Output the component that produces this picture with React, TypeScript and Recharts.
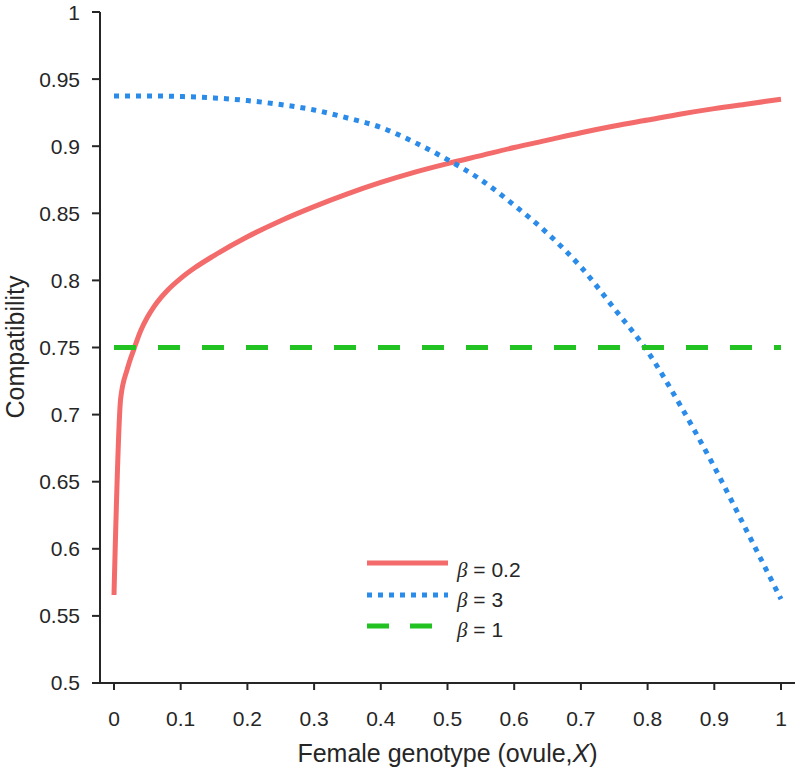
import React from 'react';
import { LineChart, Line, XAxis, YAxis, Legend } from 'recharts';

// x ticks / y ticks
const xTicks = [0, 0.1, 0.2, 0.3, 0.4, 0.5, 0.6, 0.7, 0.8, 0.9, 1];
const yTicks = [0.5, 0.55, 0.6, 0.65, 0.7, 0.75, 0.8, 0.85, 0.9, 0.95, 1];

// beta = 0.2 (denser near 0)
const redX = [0, 0.01, 0.02, 0.03, 0.04, 0.05, 0.06, 0.07, 0.08, 0.1, 0.12, 0.15, 0.2, 0.25, 0.3, 0.35, 0.4, 0.45, 0.5, 0.55, 0.6, 0.65, 0.7, 0.75, 0.8, 0.85, 0.9, 0.95, 1];
const redY = [0.5656, 0.712, 0.734, 0.749, 0.7625, 0.7725, 0.7805, 0.787, 0.7925, 0.8015, 0.809, 0.8185, 0.8325, 0.8445, 0.855, 0.8645, 0.873, 0.8805, 0.887, 0.893, 0.899, 0.9045, 0.91, 0.915, 0.9195, 0.924, 0.928, 0.9315, 0.935];

// beta = 3
const blueX = [0, 0.05, 0.1, 0.15, 0.2, 0.25, 0.3, 0.35, 0.4, 0.45, 0.5, 0.55, 0.6, 0.65, 0.7, 0.75, 0.8, 0.85, 0.9, 0.95, 1];
const blueY = [0.9375, 0.9375, 0.937, 0.936, 0.934, 0.931, 0.927, 0.921, 0.914, 0.903, 0.89, 0.875, 0.856, 0.835, 0.81, 0.779, 0.747, 0.706, 0.661, 0.612, 0.5625];

// beta = 1
const greenX = [0, 1];
const greenY = [0.75, 0.75];

const RED = '#f36b6b';
const BLUE = '#2b8be9';
const GREEN = '#21c221';
const INK = '#262626';
const FONT = '"Liberation Sans", Arial, sans-serif';

const toRows = (xs: number[], ys: number[]) => xs.map((x, i) => ({ x, y: ys[i] }));

const redData = toRows(redX, redY);
const blueData = toRows(blueX, blueY);
const greenData = toRows(greenX, greenY);

const legendRows = [
  { label: '0.2', color: RED, dash: undefined as string | undefined },
  { label: '3', color: BLUE, dash: '5 6' },
  { label: '1', color: GREEN, dash: '22 21' },
];

const LegendBox = () => (
  <svg width={180} height={100} style={{ display: 'block' }}>
    {legendRows.map((r, i) => {
      const ly = [18, 50, 81][i];
      const ty = [32, 62, 92][i];
      return (
        <g key={r.label}>
          <line x1={7} x2={88} y1={ly} y2={ly} stroke={r.color} strokeWidth={5} strokeDasharray={r.dash} />
          <text x={97} y={ty} fontSize={21} fill={INK} fontFamily={FONT}>
            <tspan fontStyle="italic" fontFamily='"Liberation Serif", serif'>β</tspan> = {r.label}
          </text>
        </g>
      );
    })}
  </svg>
);

export default function App() {
  return (
    <div style={{ position: 'absolute', left: 0, top: 0, width: 796, height: 770, background: '#fff' }}>
      <LineChart width={796} height={770} margin={{ top: 12, right: 1, left: 0, bottom: 0 }}>
        <XAxis
          dataKey="x"
          type="number"
          domain={[0, 1]}
          ticks={xTicks}
          padding={{ left: 14, right: 14 }}
          height={87}
          stroke={INK}
          strokeWidth={2}
          tickSize={7}
          tickMargin={21}
          tick={{ fontSize: 21, fill: INK, fontFamily: FONT }}
          label={{
            content: () => (
              <text x={447.5} y={753} textAnchor="middle" dominantBaseline="central" fontSize={25} fill={INK} fontFamily={FONT}>
                Female genotype (ovule,<tspan fontStyle="italic">X</tspan>)
              </text>
            ),
          }}
        />
        <YAxis
          type="number"
          domain={[0.5, 1]}
          ticks={yTicks}
          width={100}
          stroke={INK}
          strokeWidth={2}
          tickSize={8}
          tickMargin={12}
          tick={{ fontSize: 21, fill: INK, fontFamily: FONT }}
          label={{
            content: () => (
              <text x={15} y={347} transform="rotate(-90, 15, 347)" textAnchor="middle" dominantBaseline="central" fontSize={25} fill={INK} fontFamily={FONT}>
                Compatibility
              </text>
            ),
          }}
        />
        <Legend
          layout="horizontal"
          verticalAlign="middle"
          content={() => <LegendBox />}
          wrapperStyle={{ position: 'absolute', left: 360, top: 545, width: 180, height: 100 }}
        />
        <Line data={redData} dataKey="y" name="β = 0.2" type="monotone" stroke={RED} strokeWidth={5} dot={false} activeDot={false} isAnimationActive={false} />
        <Line data={blueData} dataKey="y" name="β = 3" type="monotone" stroke={BLUE} strokeWidth={5} strokeDasharray="5 6" dot={false} activeDot={false} isAnimationActive={false} />
        <Line data={greenData} dataKey="y" name="β = 1" type="linear" stroke={GREEN} strokeWidth={5} strokeDasharray="22 22" dot={false} activeDot={false} isAnimationActive={false} />
      </LineChart>
    </div>
  );
}
